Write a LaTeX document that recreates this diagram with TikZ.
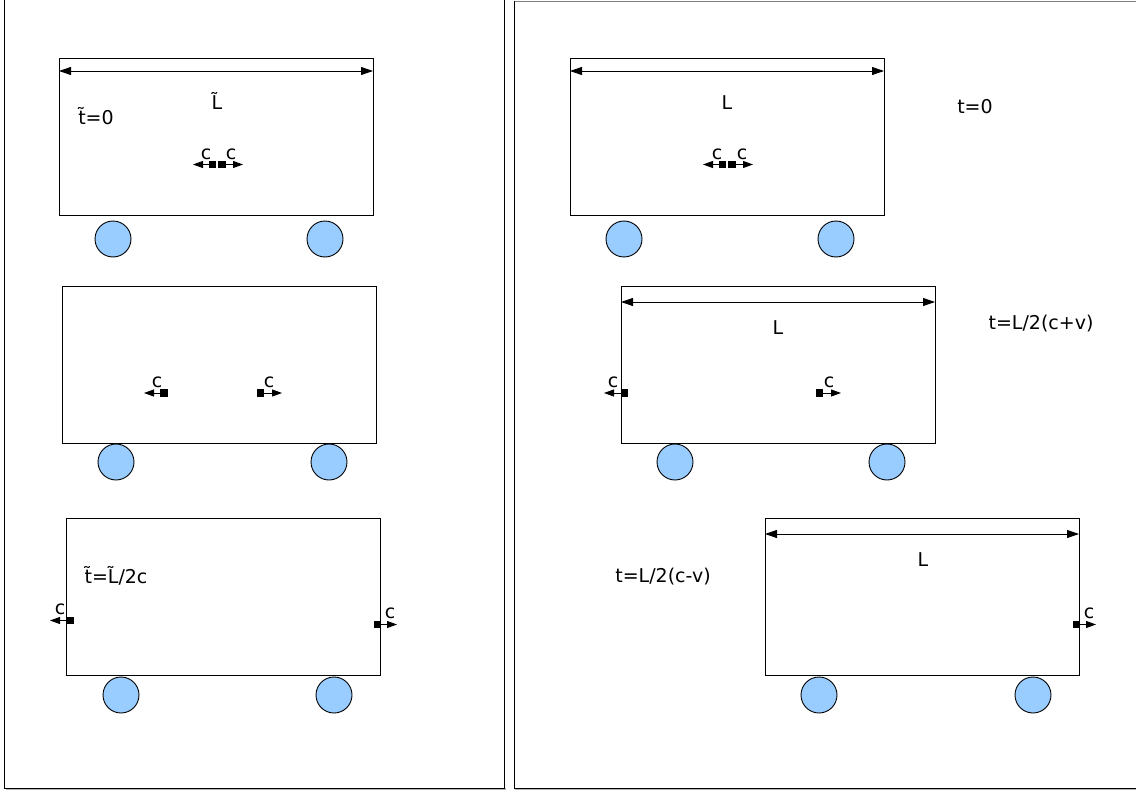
\documentclass[tikz,border=0pt]{standalone}
\usepackage{fontspec}
\setmainfont{DejaVu Sans}
\usetikzlibrary{arrows.meta}
\definecolor{wheelblue}{HTML}{99CCFF}
\tikzset{
  car/.style={draw, line width=0.9pt, inner sep=0pt, anchor=north west, minimum width=314pt, minimum height=157pt},
  wheel/.style={circle, draw, line width=0.9pt, fill=wheelblue, minimum size=36pt, inner sep=0pt},
  photon/.style={fill=black, minimum size=7.5pt, inner sep=0pt},
  lbl/.style={font=\fontsize{19}{22}\selectfont, inner sep=0pt},
  clbl/.style={font=\fontsize{19}{22}\selectfont, inner sep=0pt},
  dim/.style={line width=0.9pt, {Triangle[length=12pt,width=8pt]}-{Triangle[length=12pt,width=8pt]}},
  ray/.style={line width=0.9pt, -{Triangle[length=10pt,width=7pt]}},
  panel/.style={draw, line width=0.7pt}
}
\begin{document}
\begin{tikzpicture}[x=1pt,y=-1pt]
\useasboundingbox (0,0) rectangle (1136,792);
% panels
\fill[gray!60] (6,788) rectangle (506,790);
\fill[gray!60] (515,788) rectangle (1136,790);
\draw[panel] (4,-2) -- (4,788) -- (504,788) -- (504,-2);
\draw[panel, gray] (514,1) -- (1140,1);
\draw[panel] (514,1) -- (514,788) -- (1140,788);

% ===== Left panel =====
% car 1
\node[car] (L1) at (59,58) {};
\node[wheel] (L1w1) at (113,239) {};
\node[wheel] (L1w2) at (325,239) {};
\coordinate (L1a) at (59,71); \coordinate (L1b) at (373,71);
\draw[dim] (L1a) -- (L1b);
\node[lbl] (L1L) at (217,101) {L̃};
\node[lbl] (L1t) at (96,116) {t̃=0};
\node[photon] (L1p1) at (212.5,164.5) {};
\node[photon] (L1p2) at (222,164.5) {};
\coordinate (L1e1) at (193,164.5); \coordinate (L1e2) at (243,164.5);
\draw[ray] (L1p1) -- (L1e1);
\draw[ray] (L1p2) -- (L1e2);
\node[clbl] (L1c1) at (206,154) {c};
\node[clbl] (L1c2) at (231,154) {c};

% car 2
\node[car] (L2) at (62,286) {};
\node[wheel] (L2w1) at (116,462) {};
\node[wheel] (L2w2) at (329,462) {};
\node[photon] (L2p1) at (164,393) {};
\node[photon] (L2p2) at (260.5,393) {};
\coordinate (L2e1) at (144,393); \coordinate (L2e2) at (282,393);
\draw[ray] (L2p1) -- (L2e1);
\draw[ray] (L2p2) -- (L2e2);
\node[clbl] (L2c1) at (157,382) {c};
\node[clbl] (L2c2) at (269,382) {c};

% car 3
\node[car] (L3) at (66,518) {};
\node[wheel] (L3w1) at (121,695) {};
\node[wheel] (L3w2) at (334,695) {};
\node[lbl] (L3t) at (116,576) {t̃=L̃/2c};
\node[photon] (L3p1) at (70.5,620.5) {};
\node[photon] (L3p2) at (377.5,624.5) {};
\coordinate (L3e1) at (50,620.5); \coordinate (L3e2) at (397,624.5);
\draw[ray] (L3p1) -- (L3e1);
\draw[ray] (L3p2) -- (L3e2);
\node[clbl] (L3c1) at (60,609) {c};
\node[clbl] (L3c2) at (390,613) {c};

% ===== Right panel =====
% car 1
\node[car] (R1) at (570,58) {};
\node[wheel] (R1w1) at (624,239) {};
\node[wheel] (R1w2) at (836,239) {};
\coordinate (R1a) at (570,71); \coordinate (R1b) at (884,71);
\draw[dim] (R1a) -- (R1b);
\node[lbl] (R1L) at (727,103) {L};
\node[lbl] (R1t) at (975,107) {t=0};
\node[photon] (R1p1) at (722.5,164.5) {};
\node[photon] (R1p2) at (732,164.5) {};
\coordinate (R1e1) at (703,164.5); \coordinate (R1e2) at (753,164.5);
\draw[ray] (R1p1) -- (R1e1);
\draw[ray] (R1p2) -- (R1e2);
\node[clbl] (R1c1) at (717,154) {c};
\node[clbl] (R1c2) at (742,154) {c};

% car 2
\node[car] (R2) at (621,286) {};
\node[wheel] (R2w1) at (675,462) {};
\node[wheel] (R2w2) at (887,462) {};
\coordinate (R2a) at (621,302); \coordinate (R2b) at (935,302);
\draw[dim] (R2a) -- (R2b);
\node[lbl] (R2L) at (778,328) {L};
\node[lbl] (R2t) at (1041,324) {t=L/2(c+v)};
\node[photon] (R2p1) at (624.5,393) {};
\node[photon] (R2p2) at (819.5,393) {};
\coordinate (R2e1) at (604,393); \coordinate (R2e2) at (841,393);
\draw[ray] (R2p1) -- (R2e1);
\draw[ray] (R2p2) -- (R2e2);
\node[clbl] (R2c1) at (613,382) {c};
\node[clbl] (R2c2) at (829,382) {c};

% car 3
\node[car] (R3) at (765,518) {};
\node[wheel] (R3w1) at (819,695) {};
\node[wheel] (R3w2) at (1033,695) {};
\coordinate (R3a) at (765,534); \coordinate (R3b) at (1079,534);
\draw[dim] (R3a) -- (R3b);
\node[lbl] (R3L) at (923,560) {L};
\node[lbl] (R3t) at (663,577) {t=L/2(c-v)};
\node[photon] (R3p) at (1076.5,624.5) {};
\coordinate (R3e) at (1096,624.5);
\draw[ray] (R3p) -- (R3e);
\node[clbl] (R3c) at (1089,613) {c};
\end{tikzpicture}
\end{document}
